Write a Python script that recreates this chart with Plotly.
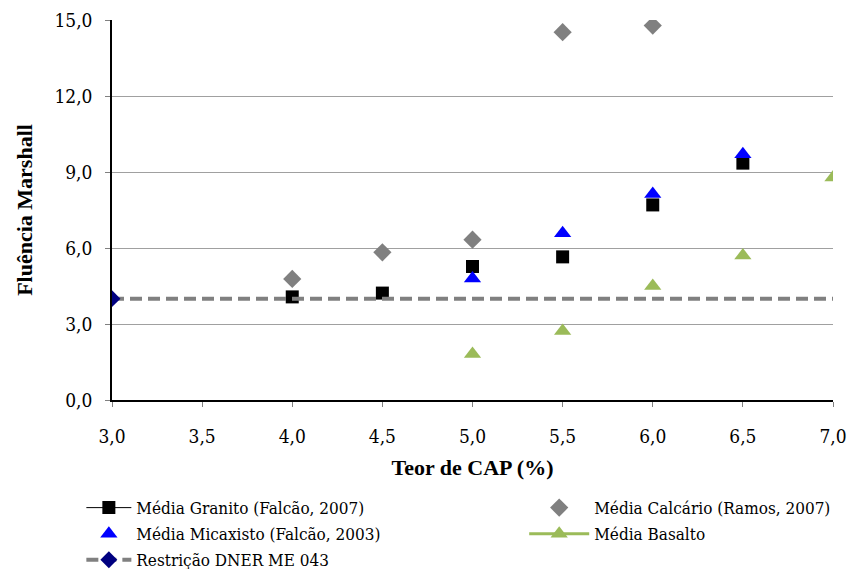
import plotly.graph_objects as go

# Data
granito_x = [4.0, 4.5, 5.0, 5.5, 6.0, 6.5]
granito_y = [4.07, 4.22, 5.27, 5.65, 7.70, 9.35]

calcario_x = [4.0, 4.5, 5.0, 5.5, 6.0]
calcario_y = [4.78, 5.83, 6.33, 14.52, 14.78]

micaxisto_x = [5.0, 5.5, 6.0, 6.5]
micaxisto_y = [4.80, 6.58, 8.13, 9.70]

basalto_x = [5.0, 5.5, 6.0, 6.5, 7.0]
basalto_y = [1.82, 2.72, 4.50, 5.70, 8.78]

restricao_x = [3.0, 7.0]
restricao_y = [4.0, 4.0]

x_ticks = [3.0, 3.5, 4.0, 4.5, 5.0, 5.5, 6.0, 6.5, 7.0]
y_ticks = [0.0, 3.0, 6.0, 9.0, 12.0, 15.0]


def gapped(vals):
    out = []
    for v in vals:
        out += [v, None]
    return out


FONT_B = "Liberation Serif"
FONT = "DejaVu Serif Condensed, DejaVu Serif"
fig = go.Figure()

fig.add_trace(go.Scatter(
    x=gapped(granito_x), y=gapped(granito_y), mode="lines+markers",
    name="Média Granito (Falcão, 2007)", connectgaps=False, legend="legend", legendgroup="a",
    line=dict(color="black", width=1),
    marker=dict(symbol="square", size=13, color="black")))

fig.add_trace(go.Scatter(
    x=calcario_x, y=calcario_y, mode="markers",
    name="Média Calcário (Ramos, 2007)", legend="legend2", legendgroup="b",
    marker=dict(symbol="diamond", size=14, color="#808080")))

fig.add_trace(go.Scatter(
    x=micaxisto_x, y=micaxisto_y, mode="markers",
    name="Média Micaxisto (Falcão, 2003)", legend="legend", legendgroup="c",
    marker=dict(symbol="triangle-up", size=15, color="#0000FF")))

fig.add_trace(go.Scatter(
    x=gapped(basalto_x), y=gapped(basalto_y), mode="lines+markers",
    name="Média Basalto", connectgaps=False, legend="legend2", legendgroup="d",
    line=dict(color="#9BBB59", width=3),
    marker=dict(symbol="triangle-up", size=15, color="#9BBB59")))

fig.add_trace(go.Scatter(
    x=restricao_x, y=restricao_y, mode="lines+markers",
    name="Restrição DNER ME 043", legend="legend", legendgroup="e",
    line=dict(color="#808080", width=4, dash="12px,6px"),
    marker=dict(symbol="diamond", size=13, color=["#000080", "rgba(0,0,0,0)"])))

legend_common = dict(
    orientation="v", yanchor="top", traceorder="grouped", tracegroupgap=1,
    font=dict(family=FONT, size=17, color="black"),
    bgcolor="rgba(0,0,0,0)", itemclick=False, itemdoubleclick=False,
)

fig.update_layout(
    width=848, height=569,
    margin=dict(l=112, r=15, t=20, b=169, autoexpand=False),
    paper_bgcolor="white", plot_bgcolor="white",
    separators=",.",
    font=dict(family=FONT, size=17, color="black"),
    showlegend=True,
    legend=dict(x=-0.0425, y=-0.237, xanchor="left", itemwidth=45, **legend_common),
    legend2=dict(x=0.5717, y=-0.237, xanchor="left", itemwidth=60, **legend_common),
)

fig.update_xaxes(
    range=[3.0, 7.0], tickvals=x_ticks, tickformat=".1f",
    showgrid=False, zeroline=False,
    showline=True, linecolor="black", linewidth=1.5,
    ticks="outside", ticklen=5, tickcolor="#808080",
    ticklabelstandoff=13,
    tickfont=dict(family=FONT, size=19),
    title=dict(text="<b>Teor de CAP (%)</b>", font=dict(family=FONT_B, size=22), standoff=14),
)

fig.update_yaxes(
    range=[0, 15], tickvals=y_ticks, tickformat=".1f",
    showgrid=True, gridcolor="#A0A0A0", gridwidth=1, zeroline=False,
    showline=True, linecolor="black", linewidth=1.5,
    ticks="outside", ticklen=5, tickcolor="#808080",
    ticklabelstandoff=9,
    tickfont=dict(family=FONT, size=19),
    title=dict(text="<b>Fluência Marshall</b>", font=dict(family=FONT_B, size=22), standoff=16),
)

fig.write_html(
    "out.html",
    config={"displayModeBar": False},
    post_script="document.body.style.margin='0';document.body.style.overflow='hidden';",
)
